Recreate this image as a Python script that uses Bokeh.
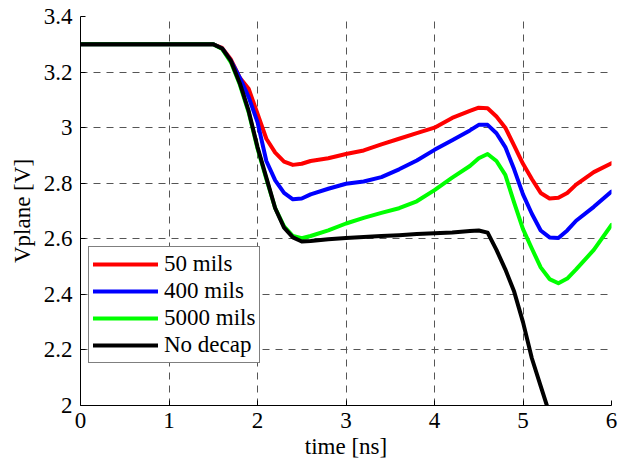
from bokeh.plotting import figure
from bokeh.models import FixedTicker, Legend, LegendItem, Range1d
from bokeh.embed import file_html
from bokeh.resources import INLINE

# ---- data ----
time_ns = [0.0, 1.5, 1.6, 1.7, 1.8, 1.9, 2.0, 2.1, 2.2, 2.3, 2.4, 2.5, 2.6, 2.8,
           3.0, 3.2, 3.4, 3.6, 3.8, 4.0, 4.2, 4.4, 4.5, 4.6, 4.7, 4.8, 4.9, 5.0,
           5.1, 5.2, 5.3, 5.4, 5.5, 5.6, 5.8, 6.0]

v_50mils = [3.3, 3.3, 3.287, 3.245, 3.18, 3.14, 3.05, 2.96, 2.91, 2.878, 2.866, 2.87,
            2.88, 2.89, 2.905, 2.918, 2.94, 2.96, 2.98, 3.0, 3.035, 3.06, 3.072, 3.07,
            3.04, 3.0, 2.935, 2.87, 2.815, 2.765, 2.745, 2.748, 2.765, 2.795, 2.84, 2.872]

v_400mils = [3.3, 3.3, 3.285, 3.24, 3.18, 3.11, 3.02, 2.88, 2.81, 2.765, 2.742, 2.745,
             2.76, 2.78, 2.798, 2.806, 2.822, 2.85, 2.882, 2.92, 2.955, 2.99, 3.01, 3.01,
             2.98, 2.93, 2.85, 2.76, 2.69, 2.63, 2.605, 2.603, 2.63, 2.665, 2.715, 2.77]

v_5000mils = [3.3, 3.3, 3.283, 3.235, 3.155, 3.055, 2.925, 2.815, 2.71, 2.645, 2.61, 2.602,
              2.61, 2.63, 2.655, 2.675, 2.693, 2.71, 2.735, 2.775, 2.82, 2.862, 2.89, 2.905,
              2.88, 2.83, 2.73, 2.635, 2.565, 2.497, 2.455, 2.44, 2.457, 2.49, 2.56, 2.65]

v_nodecap = [3.3, 3.3, 3.285, 3.24, 3.16, 3.06, 2.93, 2.82, 2.71, 2.64, 2.605, 2.59,
             2.592, 2.598, 2.603, 2.606, 2.61, 2.613, 2.617, 2.62, 2.623, 2.628, 2.63, 2.622,
             2.56, 2.49, 2.41, 2.3, 2.17, 2.07, 1.97]

series_names = ["50 mils", "400 mils", "5000 mils", "No decap"]
series_colors = ["#ff0000", "#0000ff", "#00ff00", "#000000"]

x_ticks = [0, 1, 2, 3, 4, 5, 6]
x_tick_labels = ["0", "1", "2", "3", "4", "5", "6"]
y_ticks = [2, 2.2, 2.4, 2.6, 2.8, 3, 3.2, 3.4]
y_tick_labels = ["2", "2.2", "2.4", "2.6", "2.8", "3", "3.2", "3.4"]

FONT = "'Liberation Serif', 'Times New Roman', serif"
FS = "23px"

p = figure(width=619, height=462, output_backend="svg", toolbar_location=None,
           x_range=Range1d(0, 6), y_range=Range1d(2, 3.4),
           min_border_left=80, min_border_right=8, min_border_top=16, min_border_bottom=57,
           background_fill_color="white", border_fill_color="white")
p.outline_line_color = None

renderers = []
values = [v_50mils, v_400mils, v_5000mils, v_nodecap]
for vals, col in zip(values, series_colors):
    r = p.line(time_ns[:len(vals)], vals, line_color=col, line_width=4, line_join="round", line_cap="round")
    renderers.append(r)

p.xaxis.ticker = FixedTicker(ticks=x_ticks)
p.yaxis.ticker = FixedTicker(ticks=y_ticks)
p.xaxis.major_label_overrides = {t: l for t, l in zip(x_ticks, x_tick_labels)}
p.yaxis.major_label_overrides = {t: l for t, l in zip(y_ticks, y_tick_labels)}
for ax in (p.xaxis[0], p.yaxis[0]):
    ax.major_label_text_font = FONT
    ax.major_label_text_font_style = "normal"
    ax.major_label_text_font_size = FS
    ax.major_label_text_color = "black"
    ax.axis_line_color = "black"
    ax.axis_line_width = 1
    ax.major_tick_in = 5
    ax.major_tick_out = 0
    ax.major_tick_line_color = "black"
    ax.minor_tick_line_color = None
    ax.axis_label_text_font = FONT
    ax.axis_label_text_font_size = FS
    ax.axis_label_text_font_style = "normal"
    ax.axis_label_text_color = "black"

p.xaxis.axis_label = "time [ns]"
p.yaxis.axis_label = "Vplane [V]"
p.xaxis.major_label_standoff = 7
p.yaxis.major_label_standoff = 8
p.xaxis.axis_label_standoff = 3
p.yaxis.axis_label_standoff = 6

for g in (p.xgrid[0], p.ygrid[0]):
    g.grid_line_color = "#555555"
    g.grid_line_dash = "7 6"
    g.grid_line_width = 1

legend = Legend(items=[LegendItem(label=n, renderers=[r]) for n, r in zip(series_names, renderers)],
                location=(8, 42), orientation="vertical",
                label_text_font=FONT, label_text_font_size=FS, label_text_color="black",
                label_text_font_style="normal",
                glyph_width=65, glyph_height=26, label_height=26, label_standoff=6,
                spacing=1, padding=4, margin=0,
                border_line_color="black", border_line_width=1,
                background_fill_color="white", background_fill_alpha=1.0)
p.add_layout(legend, "center")

open("out.html", "w").write(file_html(p, INLINE))
